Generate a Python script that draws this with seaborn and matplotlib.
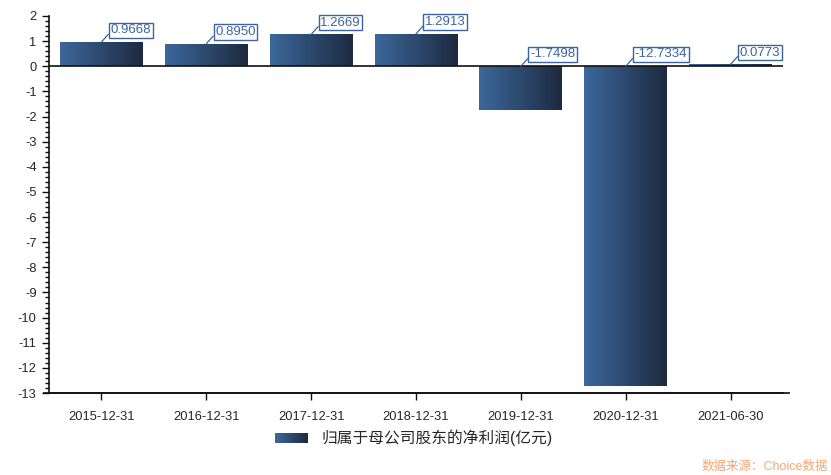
import numpy as np
import pandas as pd
import matplotlib
matplotlib.use("Agg")
import matplotlib.pyplot as plt
import seaborn as sns
from matplotlib.colors import LinearSegmentedColormap
from matplotlib.patches import Rectangle
from matplotlib.legend_handler import HandlerBase
from matplotlib.ticker import MultipleLocator

# ===============================
# Data
# ===============================
dates = ["2015-12-31", "2016-12-31", "2017-12-31", "2018-12-31",
         "2019-12-31", "2020-12-31", "2021-06-30"]
profit = [0.9668, 0.8950, 1.2669, 1.2913, -1.7498, -12.7334, 0.0773]
labels = ["0.9668", "0.8950", "1.2669", "1.2913", "-1.7498", "-12.7334", "0.0773"]
series_name = "归属于母公司股东的净利润(亿元)"

df = pd.DataFrame({"date": dates, "profit": profit})

sns.set_style("white")
plt.rcParams["font.family"] = ["Liberation Sans", "Noto Sans CJK SC", "DejaVu Sans"]
plt.rcParams["axes.unicode_minus"] = False

c_left, c_right = "#3c689b", "#1d2a40"
grad = LinearSegmentedColormap.from_list("bar_grad", [c_left, c_right])

fig = plt.figure(figsize=(8.31, 4.75), dpi=100)
ax = fig.add_axes([49 / 831, 1 - 393 / 475, (783 - 49) / 831, (393 - 16) / 475])

sns.barplot(data=df, x="date", y="profit", color=c_left, width=0.79,
            saturation=1, ax=ax, linewidth=0)

# gradient fill for each bar
g = np.linspace(0, 1, 256).reshape(1, -1)
for p in ax.patches:
    x0, y0 = p.get_x(), p.get_y()
    w, h = p.get_width(), p.get_height()
    im = ax.imshow(g, cmap=grad, aspect="auto", interpolation="bicubic",
                   extent=[x0, x0 + w, min(y0, y0 + h), max(y0, y0 + h)], zorder=2)
    im.set_clip_path(p)
ax.set_xlim(-0.5, 6.5)
ax.set_ylim(-13, 2)

ax.axhline(0, color="#111111", lw=1.2, zorder=3)

# value labels
for i, (v, t) in enumerate(zip(profit, labels)):
    ax.annotate(t, xy=(i, max(v, 0)), xytext=(6.5, 8.5), textcoords="offset points",
                ha="left", va="center", fontsize=9.5, color="#3d63a0",
                bbox=dict(boxstyle="square,pad=0.12", fc="white", ec="#3d63a0", lw=1),
                arrowprops=dict(arrowstyle="-", color="#3d63a0", lw=0.9,
                                shrinkA=0, shrinkB=0, relpos=(0, 0.35)), zorder=5)

# axes styling
for s in ["top", "right"]:
    ax.spines[s].set_visible(False)
for s in ["left", "bottom"]:
    ax.spines[s].set_color("#111111")
    ax.spines[s].set_linewidth(1.2)
ax.yaxis.set_major_locator(MultipleLocator(1))
ax.yaxis.set_minor_locator(MultipleLocator(0.2))
ax.tick_params(axis="y", which="major", length=5, width=1, color="#111111",
               labelsize=9.3, pad=4, left=True)
ax.tick_params(axis="y", which="minor", length=3, width=1, color="#111111", left=True)
ax.tick_params(axis="x", which="major", length=5, width=1, color="#111111",
               labelsize=9.3, pad=8, bottom=True)
ax.set_xlabel("")
ax.set_ylabel("")
ax.grid(False)

# bottom axis line runs a little past the plot area
ax.plot([-0.557, 6.567], [-13, -13], color="#111111", lw=1.2, clip_on=False,
        solid_capstyle="butt", zorder=4)


# legend with gradient swatch
class GradientHandler(HandlerBase):
    def create_artists(self, legend, orig_handle, xdescent, ydescent,
                       width, height, fontsize, trans):
        n = 24
        arts = []
        for k in range(n):
            arts.append(Rectangle((-xdescent + width * k / n, -ydescent),
                                  width / n + 0.3, height, transform=trans,
                                  fc=grad(k / (n - 1)), ec="none", lw=0))
        return arts


handle = Rectangle((0, 0), 1, 1)
fig.legend([handle], [series_name], handler_map={Rectangle: GradientHandler()},
           loc="center", bbox_to_anchor=(414 / 831, 1 - 438 / 475), frameon=False,
           fontsize=11.3, handlelength=2.1, handleheight=0.6, handletextpad=0.9)

fig.text(828 / 831, 1 - 467 / 475, "数据来源：Choice数据", ha="right", va="center",
         fontsize=9, color="#f5a674")

fig.savefig("out.png", dpi=100)
